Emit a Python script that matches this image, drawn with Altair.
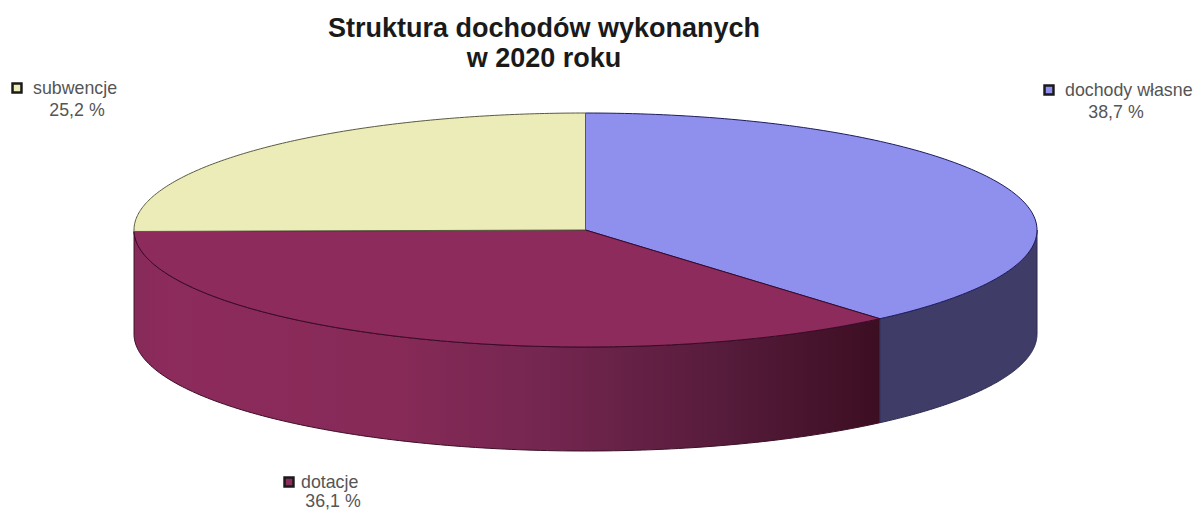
import math
import altair as alt
import pandas as pd

categories = ["dochody własne", "dotacje", "subwencje"]
shares = [38.7, 36.1, 25.2]
share_labels = ["38,7 %", "36,1 %", "25,2 %"]
top_colors = ["#8f8fee", "#8c2b5c", "#ececb9"]
title_lines = ["Struktura dochodów wykonanych", "w 2020 roku"]

# disc geometry in picture pixels
CX, CY, RX, RY, DEPTH = 585.5, 230, 451.5, 117, 104
X_SCALE = alt.Scale(domain=[8, 1194], nice=False, zero=False)
Y_SCALE = alt.Scale(domain=[513, 8], nice=False, zero=False)
NOAX = dict(axis=None)


def rim(a0, a1, dy=0, n=140):
    pts = []
    for i in range(n + 1):
        t = math.radians(a0 + (a1 - a0) * i / n)
        pts.append((CX + RX * math.sin(t), CY - RY * math.cos(t) + dy))
    return pts


def poly(points, stroke, fill, width=1.0):
    closed = points + [points[0]]
    df = pd.DataFrame({"x": [p[0] for p in closed], "y": [p[1] for p in closed], "o": range(len(closed))})
    return (
        alt.Chart(df)
        .mark_line(fill=fill, stroke=stroke, strokeWidth=width, interpolate="linear", clip=False, strokeJoin="round")
        .encode(
            x=alt.X("x:Q", scale=X_SCALE, **NOAX),
            y=alt.Y("y:Q", scale=Y_SCALE, **NOAX),
            order=alt.Order("o:Q"),
        )
    )


angles = [0]
for s in shares:
    angles.append(angles[-1] + s * 3.6)

layers = []
gradient = alt.LinearGradient(
    gradient="linear",
    x1=0, x2=1, y1=0, y2=0,
    stops=[
        alt.GradientStop(offset=0, color="#872a59"),
        alt.GradientStop(offset=0.05, color="#8c2b5c"),
        alt.GradientStop(offset=0.35, color="#872a58"),
        alt.GradientStop(offset=0.55, color="#742650"),
        alt.GradientStop(offset=0.8, color="#551b3a"),
        alt.GradientStop(offset=1, color="#3c0e22"),
    ],
)
# side walls: only the front-facing rims are visible
layers.append(poly(rim(angles[1], angles[2]) + rim(angles[2], angles[1], DEPTH), "#3a1028", gradient))
layers.append(poly(rim(angles[0] + 90, angles[1]) + rim(angles[1], angles[0] + 90, DEPTH), "#2a2a50", "#3f3d68"))

top_strokes = ["#1c1c60", "#3a0a28", "#5a5a40"]
for i in range(3):
    pts = [(CX, CY)] + rim(angles[i], angles[i + 1])
    layers.append(poly(pts, top_strokes[i], top_colors[i]))

title_df = pd.DataFrame({"t": title_lines, "x": [544, 544], "y": [28.5, 58.5]})
layers.append(
    alt.Chart(title_df)
    .mark_text(font="Liberation Sans", fontWeight="bold", fontSize=27, color="#1a1a1a", align="center", baseline="middle")
    .encode(x=alt.X("x:Q", scale=X_SCALE, **NOAX), y=alt.Y("y:Q", scale=Y_SCALE, **NOAX), text="t:N")
)

legend_df = pd.DataFrame({
    "cat": categories,
    "share": share_labels,
    "color": top_colors,
    "sx": [1049, 289, 17],
    "sy": [90, 482, 88],
    "nx": [1065, 301, 33],
    "ny": [91, 483, 89],
    "vx": [1116, 333, 77],
    "vy": [113, 502, 111],
})
layers.append(
    alt.Chart(legend_df)
    .mark_square(size=80, strokeWidth=2.5, stroke="#1a1a1a", opacity=1, filled=True)
    .encode(
        x=alt.X("sx:Q", scale=X_SCALE, **NOAX),
        y=alt.Y("sy:Q", scale=Y_SCALE, **NOAX),
        fill=alt.Fill("color:N", scale=None),
    )
)
layers.append(
    alt.Chart(legend_df)
    .mark_text(font="Liberation Sans", fontSize=17.8, color="#555555", align="left", baseline="middle")
    .encode(x=alt.X("nx:Q", scale=X_SCALE, **NOAX), y=alt.Y("ny:Q", scale=Y_SCALE, **NOAX), text="cat:N")
)
layers.append(
    alt.Chart(legend_df)
    .mark_text(font="Liberation Sans", fontSize=17.8, color="#555555", align="center", baseline="middle")
    .encode(x=alt.X("vx:Q", scale=X_SCALE, **NOAX), y=alt.Y("vy:Q", scale=Y_SCALE, **NOAX), text="share:N")
)

chart = (
    alt.layer(*layers)
    .properties(width=1186, height=505, padding=0, autosize=alt.AutoSizeParams(type="none"), background="white")
    .configure_view(stroke=None)
)
chart.save("out.html", embed_options={"renderer": "svg", "actions": False})
